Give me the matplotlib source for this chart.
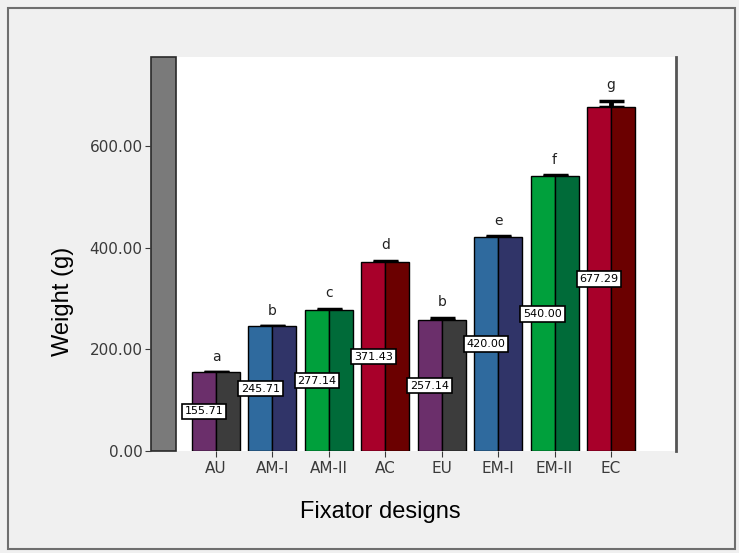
import matplotlib
matplotlib.use("Agg")
import matplotlib.pyplot as plt
from matplotlib.patches import Rectangle

# Mean weight each fixator design can carry
designs = ["AU", "AM-I", "AM-II", "AC", "EU", "EM-I", "EM-II", "EC"]
means = [155.71, 245.71, 277.14, 371.43, 257.14, 420.00, 540.00, 677.29]
errors = [0.0, 0.0, 3.0, 3.0, 5.0, 3.0, 3.0, 12.0]
groups = ["a", "b", "c", "d", "b", "e", "f", "g"]

# two-tone fill for each bar (left half, right half)
left_colors = ["#6b2f6b", "#2f6a9e", "#00a03c", "#a8002a",
               "#6b2f6b", "#2f6a9e", "#00a03c", "#a8002a"]
right_colors = ["#3c3c3c", "#303468", "#006b39", "#6b0000",
                "#3c3c3c", "#303468", "#006b39", "#6b0000"]

plt.rcParams["font.family"] = ["Liberation Sans", "DejaVu Sans"]

W, H = 739, 553
fig = plt.figure(figsize=(W / 100, H / 100), dpi=100)
fig.patch.set_facecolor("#f0f0f0")

# outer frame
fig.patches.append(Rectangle((8 / W, 4 / H), 727 / W, 541 / H,
                             transform=fig.transFigure, fill=False,
                             edgecolor="#6e6e6e", linewidth=1.5))

left_px, right_px, top_px, bottom_px = 151, 676, 57, 451
ax = fig.add_axes([left_px / W, (H - bottom_px) / H,
                   (right_px - left_px) / W, (bottom_px - top_px) / H])
ax.set_facecolor("white")

step = 56.4
bar_w = 0.85
x = list(range(len(designs)))
ax.set_xlim(-(216 - left_px) / step, 7 + (right_px - 611) / step)
ax.set_ylim(0, 775)

# grey wall at the left of the plot
wall_frac = 25 / (right_px - left_px)
ax.add_patch(Rectangle((0, 0), wall_frac, 1, transform=ax.transAxes,
                       facecolor="#7a7a7a", edgecolor="#2a2a2a",
                       linewidth=1.2, zorder=1, clip_on=False))

# error bars drawn behind the bars, upper half only
ax.errorbar(x, means, yerr=[[0] * len(errors), errors], fmt="none",
            ecolor="black", elinewidth=3.5, capsize=9, capthick=2.5, zorder=2)

half = bar_w / 2
ax.bar([xi - half / 2 for xi in x], means, width=half, color=left_colors,
       edgecolor="black", linewidth=1.0, zorder=3)
ax.bar([xi + half / 2 for xi in x], means, width=half, color=right_colors,
       edgecolor="black", linewidth=1.0, zorder=3)

for xi, m, e, g in zip(x, means, errors, groups):
    ax.annotate(g, (xi, m + e), xytext=(0, 6), textcoords="offset points",
                ha="center", va="bottom", fontsize=10, color="#222222",
                family="DejaVu Sans", zorder=5)
    ax.text(xi - bar_w * 0.25, m / 2, f"{m:.2f}", ha="center", va="center",
            fontsize=8, color="black", zorder=6, family="DejaVu Sans",
            bbox=dict(boxstyle="square,pad=0.25", facecolor="white",
                      edgecolor="black", linewidth=1.2))

ax.set_yticks([0, 200, 400, 600])
ax.set_yticklabels(["0.00", "200.00", "400.00", "600.00"])
ax.set_xticks(x)
ax.set_xticklabels(designs)
ax.tick_params(axis="both", labelsize=11, colors="#3a3a3a", length=4,
               width=0.8)
for lab in ax.get_xticklabels() + ax.get_yticklabels():
    lab.set_family("DejaVu Sans")
ax.tick_params(axis="y", pad=2)
ax.tick_params(axis="x", pad=3)

for side in ["top", "left", "bottom"]:
    ax.spines[side].set_visible(False)
ax.spines["right"].set_color("#555555")
ax.spines["right"].set_linewidth(2)

fig.text(63 / W, 1 - 301 / H, "Weight (g)", rotation=90, ha="center",
         va="center", fontsize=17, color="black")
fig.text(380 / W, 1 - 512 / H, "Fixator designs", ha="center", va="center",
         fontsize=17, color="black")

fig.savefig("out.png", dpi=100, facecolor=fig.get_facecolor())
